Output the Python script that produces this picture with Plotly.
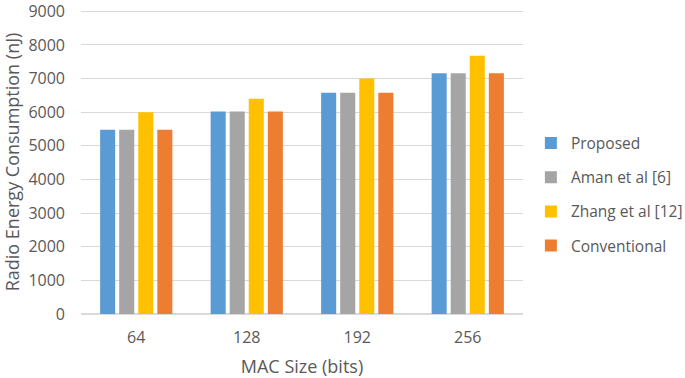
import plotly.graph_objects as go

categories = ["64", "128", "192", "256"]
series_names = ["Proposed", "Aman et al [6]", "Zhang et al [12]", "Conventional"]
proposed = [5480, 6020, 6580, 7160]
aman = [5480, 6020, 6580, 7160]
zhang = [6000, 6400, 7000, 7680]
conventional = [5480, 6020, 6580, 7160]
y_ticks = [0, 1000, 2000, 3000, 4000, 5000, 6000, 7000, 8000, 9000]

colors = ["#5B9BD5", "#A5A5A5", "#FFC000", "#ED7D31"]
values = [proposed, aman, zhang, conventional]

fig = go.Figure()
for name, vals, col in zip(series_names, values, colors):
    fig.add_trace(go.Bar(x=categories, y=vals, name=name, marker_color=col,
                         marker_line_width=0, legendgroup=name))

font_family = "Open Sans, Liberation Sans, sans-serif"
fig.update_layout(
    width=685, height=378,
    margin=dict(l=81, r=162, t=10, b=64, autoexpand=False),
    plot_bgcolor="white", paper_bgcolor="white",
    barmode="group", bargap=0.31, bargroupgap=0.21,
    font=dict(family=font_family, color="#595959", size=16),
    showlegend=True,
    legend=dict(xref="container", yref="container", x=0.775, xanchor="left",
                y=0.4854, yanchor="middle",
                font=dict(size=15.5, color="#595959"), tracegroupgap=11,
                itemwidth=30),
    xaxis=dict(title=dict(text="MAC Size (bits)", font=dict(size=18), standoff=15),
               showgrid=False, showline=True, linecolor="#D9D9D9", linewidth=1,
               ticks="", tickfont=dict(size=16), ticklabelstandoff=9, automargin=False),
    yaxis=dict(title=dict(text="Radio Energy Consumption (nJ)", font=dict(size=18), standoff=27),
               range=[0, 9040], tickvals=y_ticks, showgrid=True, gridcolor="#D9D9D9",
               gridwidth=1, zeroline=True, zerolinecolor="#D9D9D9", ticks="",
               tickfont=dict(size=16), ticklabelstandoff=15, ticklabeloverflow="allow",
               showline=False, automargin=False),
)

fig.write_html("out.html", config={"displayModeBar": False},
               post_script="document.body.style.margin='0px';")
